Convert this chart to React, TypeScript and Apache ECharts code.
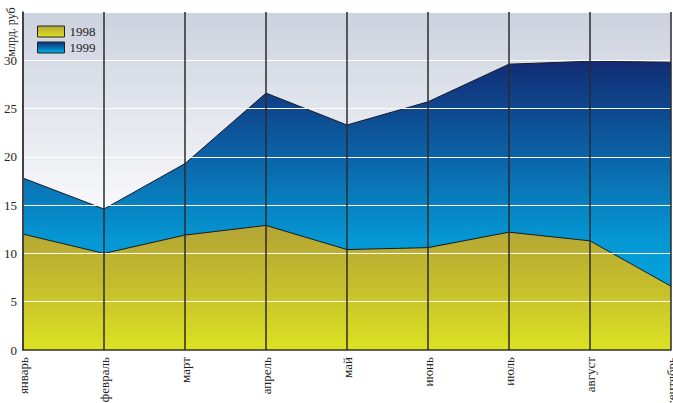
import React, { useEffect, useRef } from "react";
import * as echarts from "echarts";

const months = ["январь", "февраль", "март", "апрель", "май", "июнь", "июль", "август", "сентябрь"];
const values1998 = [12.0, 10.0, 11.9, 12.9, 10.4, 10.6, 12.2, 11.3, 6.6];
const values1999 = [17.8, 14.6, 19.3, 26.6, 23.3, 25.7, 29.6, 29.9, 29.8];
const seriesNames = ["1998", "1999"];
const yUnit = "млрд. руб";

const FONT = "Liberation Serif";

const grad = (stops: [number, string][]) =>
  new echarts.graphic.LinearGradient(0, 0, 0, 1, stops.map(([offset, color]) => ({ offset, color })));

export default function App() {
  const ref = useRef<HTMLDivElement>(null);
  useEffect(() => {
    if (!ref.current) return;
    const chart = echarts.init(ref.current, null, { renderer: "svg" });
    const yellow = grad([
      [0, "#b4a436"],
      [0.5, "#c6bf2c"],
      [1, "#dce222"],
    ]);
    const blue = grad([
      [0, "#112c74"],
      [0.35, "#0b66aa"],
      [0.62, "#0598d4"],
      [1, "#00b2ea"],
    ]);
    const yellowIcon = grad([
      [0, "#b4a436"],
      [1, "#dce222"],
    ]);
    const blueIcon = grad([
      [0, "#112c74"],
      [1, "#00b2ea"],
    ]);
    chart.setOption({
      animation: false,
      backgroundColor: "#ffffff",
      grid: {
        left: 23,
        right: 2,
        top: 12,
        bottom: 53,
        show: true,
        borderWidth: 0,
        containLabel: false,
        outerBoundsMode: "none",
        backgroundColor: grad([
          [0, "#ccd2de"],
          [0.55, "#f6f7fa"],
          [1, "#ffffff"],
        ]),
      },
      legend: {
        orient: "vertical",
        left: 32,
        top: 20,
        itemWidth: 27,
        itemHeight: 11,
        itemGap: 3,
        icon: "rect",
        textStyle: { fontFamily: FONT, fontSize: 13, color: "#222" },
        data: [
          { name: seriesNames[0], itemStyle: { color: yellowIcon, borderColor: "#222", borderWidth: 1 } },
          { name: seriesNames[1], itemStyle: { color: blueIcon, borderColor: "#222", borderWidth: 1 } },
        ],
      },
      graphic: [
        {
          type: "text",
          x: 11,
          y: 32,
          rotation: Math.PI / 2,
          style: {
            text: yUnit,
            fontFamily: FONT,
            fontSize: 12,
            fill: "#222",
            align: "center",
            verticalAlign: "middle",
          },
        },
      ],
      xAxis: {
        type: "category",
        data: months,
        boundaryGap: false,
        z: 5,
        axisTick: { show: false },
        axisLine: { show: true, lineStyle: { color: "#333", width: 1.5 } },
        splitLine: { show: true, lineStyle: { color: "#2b2b2b", width: 1.5 } },
        axisLabel: {
          rotate: 90,
          fontFamily: FONT,
          fontSize: 13,
          color: "#222",
          margin: 7,
          interval: 0,
          hideOverlap: false,
        },
      },
      yAxis: {
        type: "value",
        min: 0,
        max: 35,
        interval: 5,
        z: 4,
        axisTick: { show: false },
        axisLine: { show: true, lineStyle: { color: "#888", width: 2 } },
        splitLine: { show: true, lineStyle: { color: "#ffffff", width: 1 } },
        axisLabel: {
          fontFamily: FONT,
          fontSize: 13,
          color: "#222",
          margin: 6,
          formatter: (v: number) => (v >= 35 ? "" : String(v)),
        },
      },
      series: [
        {
          name: seriesNames[1],
          type: "line",
          data: values1999,
          symbol: "none",
          lineStyle: { color: "#1a1a2a", width: 1 },
          itemStyle: { color: blueIcon },
          areaStyle: { color: blue, opacity: 1 },
          z: 2,
        },
        {
          name: seriesNames[0],
          type: "line",
          data: values1998,
          symbol: "none",
          lineStyle: { color: "#1a1a1a", width: 1 },
          itemStyle: { color: yellowIcon },
          areaStyle: { color: yellow, opacity: 1 },
          z: 3,
        },
      ],
    });
    return () => chart.dispose();
  }, []);
  return (
    <div style={{ position: "fixed", left: 0, top: 0, width: 673, height: 403, overflow: "hidden" }}>
      <div ref={ref} style={{ width: 673, height: 403 }} />
    </div>
  );
}
